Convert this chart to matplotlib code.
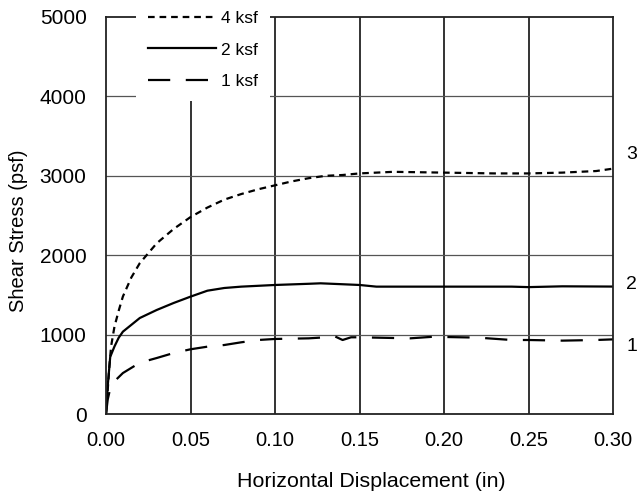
import numpy as np
import matplotlib
matplotlib.use('Agg')
from matplotlib import pyplot as plt

plt.rcParams['font.family'] = ['Liberation Sans', 'DejaVu Sans']

# shear stress vs horizontal displacement, three normal loads
x_4ksf = [0.0, 0.001, 0.002, 0.003, 0.005, 0.0075, 0.01, 0.015, 0.02, 0.03,
          0.04, 0.05, 0.06, 0.07, 0.08, 0.09, 0.10, 0.11, 0.12, 0.13, 0.14,
          0.15, 0.17, 0.20, 0.23, 0.25, 0.27, 0.29, 0.30]
y_4ksf = [0, 300, 600, 850, 1100, 1300, 1480, 1720, 1900, 2150,
          2330, 2480, 2600, 2700, 2770, 2830, 2880, 2930, 2970, 3000, 3010,
          3030, 3050, 3040, 3030, 3030, 3040, 3060, 3090]

x_2ksf = [0.0, 0.001, 0.0025, 0.005, 0.0075, 0.01, 0.02, 0.03, 0.04, 0.05,
          0.06, 0.07, 0.08, 0.10, 0.12, 0.127, 0.15, 0.16, 0.20, 0.24,
          0.25, 0.27, 0.30]
y_2ksf = [0, 350, 720, 850, 960, 1037, 1209, 1310, 1398, 1478,
          1553, 1587, 1604, 1625, 1640, 1646, 1625, 1604, 1604, 1604,
          1598, 1608, 1605]

x_1ksf = [0.0, 0.001, 0.003, 0.01, 0.02, 0.03, 0.04, 0.05, 0.06, 0.07,
          0.08, 0.09, 0.10, 0.12, 0.13, 0.135, 0.14, 0.145, 0.15, 0.18,
          0.195, 0.20, 0.22, 0.24, 0.25, 0.27, 0.29, 0.30]
y_1ksf = [0, 180, 370, 516, 646, 705, 768, 815, 848, 869,
          903, 932, 945, 953, 966, 982, 932, 966, 966, 953,
          975, 970, 962, 932, 932, 924, 932, 940]

series = [
    (x_4ksf, y_4ksf, '4 ksf', (0, (3.0, 2.2))),
    (x_2ksf, y_2ksf, '2 ksf', '-'),
    (x_1ksf, y_1ksf, '1 ksf', (0, (10.0, 7.0))),
]
x_ticks = [0.0, 0.05, 0.10, 0.15, 0.20, 0.25, 0.30]
y_ticks = [0, 1000, 2000, 3000, 4000, 5000]
side_labels = [('3', 3262), ('2', 1625), ('1', 844)]

fig = plt.figure(figsize=(6.37, 5.0), dpi=100)
ax = fig.add_axes([106/637, 1-414/500, 507/637, 397/500])

for xs, ys, lab, ls in series:
    ax.plot(xs, ys, color='black', lw=1.6, linestyle=ls, label=lab,
            solid_joinstyle='round')

ax.set_xlim(0, 0.30)
ax.set_ylim(0, 5000)
ax.set_xticks(x_ticks)
ax.set_xticklabels(['%.2f' % v for v in x_ticks], fontsize=14.5)
ax.set_yticks(y_ticks)
ax.set_yticklabels([str(v) for v in y_ticks], fontsize=15)
ax.tick_params(axis='both', length=0)
ax.tick_params(axis='y', pad=14)
ax.tick_params(axis='x', pad=12)

for v in x_ticks[1:-1]:
    ax.axvline(v, color='#111111', lw=1.2, zorder=1)
for v in y_ticks[1:-1]:
    ax.axhline(v, color='#555555', lw=0.9, zorder=1)
for sp in ax.spines.values():
    sp.set_linewidth(1.3)
    sp.set_color('#222222')

ax.set_xlabel('Horizontal Displacement (in)', fontsize=15.4)
ax.xaxis.set_label_coords(0.523, -0.146)
ax.set_ylabel('Shear Stress (psf)', fontsize=14.5)
ax.yaxis.set_label_coords(-0.154, 0.461)

for txt, yv in side_labels:
    ax.text(1.026, yv, txt, transform=ax.get_yaxis_transform(),
            fontsize=14, ha='left', va='center', clip_on=False)

leg = ax.legend(loc='center', bbox_to_anchor=(203/637, 1-50/500),
                bbox_transform=fig.transFigure, frameon=True,
                fancybox=False, fontsize=12.5, handlelength=3.9,
                handletextpad=0.3, labelspacing=0.95, borderpad=0.7,
                borderaxespad=0)
leg.get_frame().set_facecolor('white')
leg.get_frame().set_edgecolor('none')
leg.get_frame().set_alpha(1.0)

fig.savefig('out.png', dpi=100)
